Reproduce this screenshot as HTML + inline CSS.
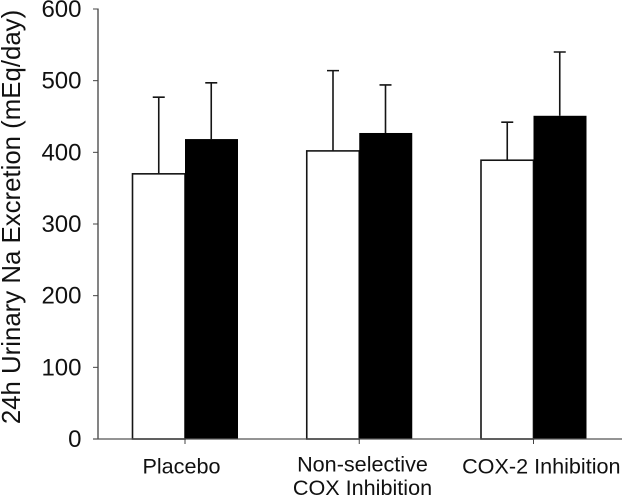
<!DOCTYPE html>
<html>
<head>
<meta charset="utf-8">
<style>
html,body{margin:0;padding:0;background:#fff;width:622px;height:496px;overflow:hidden}
svg{display:block}
text{font-family:"Liberation Sans",sans-serif;fill:#111}
</style>
</head>
<body>
<svg id="chart" width="622" height="496" viewBox="0 0 622 496" xmlns="http://www.w3.org/2000/svg"></svg>
<script>
const categories = [["Placebo"], ["Non-selective", "COX Inhibition"], ["COX-2 Inhibition"]];
const openValues = [370, 402, 389];
const filledValues = [418.5, 427, 451];
const openErrorTops = [477, 514, 442];
const filledErrorTops = [497, 494, 540];
const yTicks = [0, 100, 200, 300, 400, 500, 600];

const svg = document.getElementById('chart');
const NS = 'http://www.w3.org/2000/svg';
const y = v => 439 - v * (430 / 600);
const groupX = i => 185 + i * 174.25;
const BAR_W = 52.5;
const labelShift = i => [-3.5, 3.25, 7.8][i];
const labelBase = i => [473.5, 471.7, 473.3][i];

function add(tag, attrs, parent) {
  const el = document.createElementNS(NS, tag);
  for (const k in attrs) el.setAttribute(k, attrs[k]);
  (parent || svg).appendChild(el);
  return el;
}

// bars and error bars
categories.forEach((cat, i) => {
  const cx = groupX(i);

  const oErr = add('path', {
    d: `M${cx - BAR_W / 2} ${y(openValues[i])}V${y(openErrorTops[i])}M${cx - BAR_W / 2 - 6} ${y(openErrorTops[i])}h12`,
    stroke: '#151515', 'stroke-width': 1.6, fill: 'none'
  });
  
  

  const fErr = add('path', {
    d: `M${cx + BAR_W / 2} ${y(filledValues[i])}V${y(filledErrorTops[i])}M${cx + BAR_W / 2 - 6} ${y(filledErrorTops[i])}h12`,
    stroke: '#151515', 'stroke-width': 1.6, fill: 'none'
  });
  
  

  const oBar = add('rect', {
    x: cx - BAR_W, y: y(openValues[i]), width: BAR_W, height: y(0) - y(openValues[i]),
    fill: '#fff', stroke: '#151515', 'stroke-width': 1.6
  });
  
  

  const fBar = add('rect', {
    x: cx, y: y(filledValues[i]), width: BAR_W + 0.5, height: y(0) - y(filledValues[i]),
    fill: '#000'
  });
  
  
});

// y axis
const yAxis = add('line', { x1: 98, x2: 98, y1: y(600) - 0.5, y2: y(0), stroke: '#666', 'stroke-width': 1.6 });



yTicks.forEach(t => {
  const tick = add('line', { x1: 93, x2: 98, y1: y(t), y2: y(t), stroke: '#444', 'stroke-width': 1 });
  
  

  const lab = add('text', { x: 81.5, y: y(t) + 8, 'text-anchor': 'end', 'font-size': 24 });
  lab.textContent = t;
  
  
});

// x axis
const xAxis = add('line', { x1: 93, x2: 622, y1: y(0), y2: y(0), stroke: '#555', 'stroke-width': 1.3 });



categories.forEach((cat, i) => {
  const cx = groupX(i);
  const tick = add('line', { x1: cx, x2: cx, y1: y(0), y2: y(0) + 5, stroke: '#444', 'stroke-width': 1 });
  
  

  const lab = add('text', { 'text-anchor': 'middle', 'font-size': 21.6 });
  
  
  cat.forEach((line, j) => {
    const ts = add('tspan', { x: cx + labelShift(i), y: labelBase(i) + j * 23.3 }, lab);
    ts.textContent = line;
  });
});

// y axis title
const title = add('text', {
  transform: 'translate(20 217) rotate(-90)', 'text-anchor': 'middle', 'font-size': 25.8
});
title.textContent = '24h Urinary Na Excretion (mEq/day)';


</script>
</body>
</html>
